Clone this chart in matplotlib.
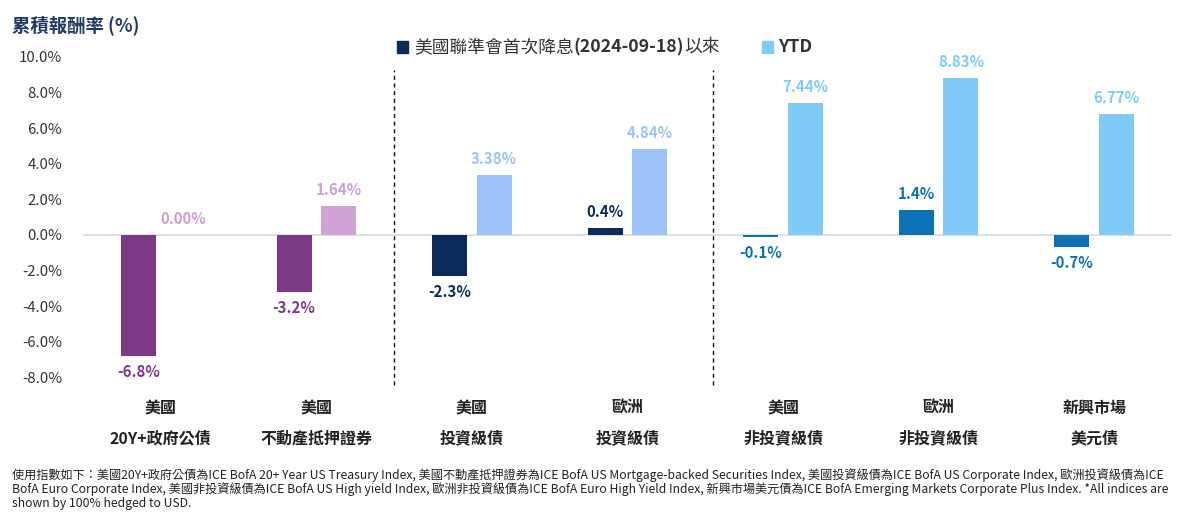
import matplotlib
matplotlib.use("Agg")
import matplotlib.pyplot as plt
import numpy as np

categories_l1 = ["美國", "美國", "美國", "歐洲", "美國", "歐洲", "新興市場"]
categories_l2 = ["20Y+政府公債", "不動產抵押證券", "投資級債", "投資級債", "非投資級債", "非投資級債", "美元債"]
since_cut = [-6.8, -3.2, -2.3, 0.4, -0.1, 1.4, -0.7]
ytd = [0.00, 1.64, 3.38, 4.84, 7.44, 8.83, 6.77]
since_labels = ["-6.8%", "-3.2%", "-2.3%", "0.4%", "-0.1%", "1.4%", "-0.7%"]
ytd_labels = ["0.00%", "1.64%", "3.38%", "4.84%", "7.44%", "8.83%", "6.77%"]
yticks = [10, 8, 6, 4, 2, 0, -2, -4, -6, -8]
series_names = ["美國聯準會首次降息", "(2024-09-18)", "以來", "YTD"]

dark_colors = ["#7B3A86", "#7B3A86", "#0B2B5C", "#0B2B5C", "#0B72B5", "#0B72B5", "#0B72B5"]
light_colors = ["#CFA3D6", "#CFA3D6", "#9DC3F9", "#9DC3F9", "#80CBF8", "#80CBF8", "#80CBF8"]
label_dark = ["#7B3A86", "#7B3A86", "#0B2B5C", "#0B2B5C", "#0B72B5", "#0B72B5", "#0B72B5"]
label_light = ["#C9A0D2", "#C9A0D2", "#9DC3F9", "#9DC3F9", "#80CBF8", "#80CBF8", "#80CBF8"]

CJK = ["Noto Sans CJK TC", "DejaVu Sans"]
plt.rcParams["font.family"] = CJK

W, H = 1178, 514
fig = plt.figure(figsize=(W / 100, H / 100), dpi=100)
ymin, ymax = -9, 11
ax = fig.add_axes([83 / W, 1 - 395.2 / H, (1172 - 83) / W, (395.2 - 39.2) / H])
ax.set_xlim(-0.5, 6.5)
ax.set_ylim(ymin, ymax)

x = np.arange(len(since_cut))
bw = 0.225
off = 0.143
ax.bar(x - off, since_cut, bw, color=dark_colors, zorder=3)
ax.bar(x + off, ytd, bw, color=light_colors, zorder=3)
ax.axhline(0, color="#D9D9D9", lw=1.2, zorder=2)

pad = 0.45
for i in range(len(x)):
    v = since_cut[i]
    if v >= 0:
        ax.text(x[i] - off, v + pad, since_labels[i], ha="center", va="bottom",
                fontsize=10.8, fontweight="bold", color=label_dark[i])
    else:
        ax.text(x[i] - off, v - pad, since_labels[i], ha="center", va="top",
                fontsize=10.8, fontweight="bold", color=label_dark[i])
    v = ytd[i]
    ax.text(x[i] + off, v + pad, ytd_labels[i], ha="center", va="bottom",
            fontsize=10.8, fontweight="bold", color=label_light[i])

for xv in [1.5, 3.55]:
    ax.plot([xv, xv], [-8.43, 9.27], color="#111111", lw=1, ls=(0, (3, 2.5)), zorder=1)

ax.set_yticks(yticks)
ax.set_yticklabels([f"{t:.1f}%" for t in yticks], fontsize=10.8, color="#333333")
ax.tick_params(axis="y", length=0, pad=15)
ax.set_xticks([])
for s in ax.spines.values():
    s.set_visible(False)

for i in range(len(x)):
    xf = (83 + (i + 0.5) * (1172 - 83) / 7) / W
    fig.text(xf, 1 - 408 / H, categories_l1[i], fontsize=11.5, fontweight="bold",
             color="#222222", ha="center", va="center")
    fig.text(xf, 1 - 438 / H, categories_l2[i], fontsize=11.5, fontweight="bold",
             color="#222222", ha="center", va="center")

# Title
fig.text(12 / W, 1 - 25 / H, "累積報酬率 (%)", fontsize=13.2, fontweight="bold",
         color="#1F3864", ha="left", va="center")

# Legend drawn manually
fig.canvas.draw()
renderer = fig.canvas.get_renderer()
ly = 1 - 47 / H
sq = 11
def square(xpix, color):
    fig.patches.append(matplotlib.patches.Rectangle(((xpix) / W, ly - sq / 2 / H), sq / W, sq / H,
                                                    transform=fig.transFigure, color=color, figure=fig))
square(397, "#0B2B5C")
xp = 414
for txt, wt in [(series_names[0], "normal"), (series_names[1], "bold"), (series_names[2], "normal")]:
    t = fig.text(xp / W, ly, txt, fontsize=12.8, fontweight=wt, color="#333333", ha="left", va="center")
    bb = t.get_window_extent(renderer)
    xp += bb.width
square(xp + 42, "#80CBF8")
fig.text((xp + 58) / W, ly, series_names[3], fontsize=12.8, fontweight="bold", color="#333333",
         ha="left", va="center")

foot = ("使用指數如下：美國20Y+政府公債為ICE BofA 20+ Year US Treasury Index, 美國不動產抵押證券為ICE BofA US Mortgage-backed Securities Index, 美國投資級債為ICE BofA US Corporate Index, 歐洲投資級債為ICE\n"
        "BofA Euro Corporate Index, 美國非投資級債為ICE BofA US High yield Index, 歐洲非投資級債為ICE BofA Euro High Yield Index, 新興市場美元債為ICE BofA Emerging Markets Corporate Plus Index. *All indices are\n"
        "shown by 100% hedged to USD.")
fig.text(12 / W, 1 - 468 / H, foot, fontsize=8.75, color="#222222", ha="left", va="top",
         linespacing=1.05, family=["Liberation Sans Narrow", "Noto Sans CJK TC", "DejaVu Sans"])

fig.savefig("out.png", dpi=100)
